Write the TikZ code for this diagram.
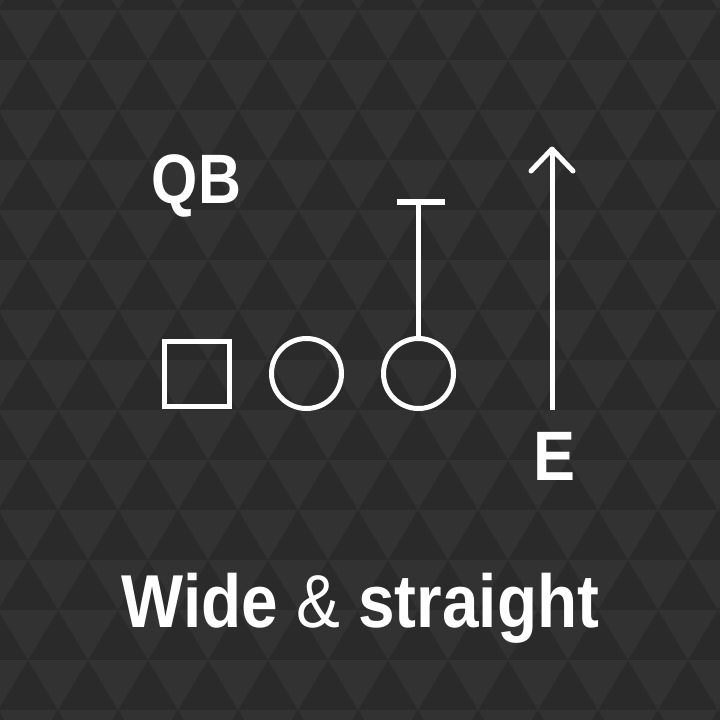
\documentclass[tikz,border=0pt]{standalone}
\usepackage{fontspec}
\usepackage{graphicx}
\setmainfont{Liberation Sans}
\definecolor{bgdark}{HTML}{2A2A2A}
\definecolor{bglight}{HTML}{323232}
\begin{document}
\begin{tikzpicture}[x=1pt,y=-1pt,
  player/.style={draw=white, line width=5pt, inner sep=0pt},
  route/.style={draw=white, line width=5pt},
  lbl/.style={text=white, inner sep=0pt, anchor=base}]
\useasboundingbox (0,0) rectangle (720,720);
\fill[bgdark] (0,0) rectangle (720,720);
\begin{scope}
\clip (0,0) rectangle (720,720);
\foreach \i in {-1,...,14}{
  \pgfmathsetmacro{\top}{10+50*\i}
  \pgfmathsetmacro{\off}{isodd(\i) ? -32 : -2}
  \foreach \k in {-1,...,12}{
    \pgfmathsetmacro{\a}{\off+60*\k}
    \fill[bglight] (\a,\top) -- (\a+60,\top) -- (\a+30,\top+50) -- cycle;
  }
}
\end{scope}
% players
\node[player, rectangle, minimum size=65pt] (qb) at (197,374) {};
\node[player, circle, minimum size=70pt] (c1) at (306.5,373.5) {};
\node[player, circle, minimum size=70pt] (c2) at (418.5,373.5) {};
% route: stop
\coordinate (barL) at (397,202);
\coordinate (barR) at (445,202);
\coordinate (stoptop) at (c2.north |- barL);
\draw[route] (c2.north) -- (stoptop);
\draw[white, line width=6pt] (barL) -- (barR);
% route: end straight
\coordinate (ebot) at (552,410);
\coordinate (etip) at (552,149);
\coordinate (ewl) at (531,171);
\coordinate (ewr) at (573,171);
\draw[route] (ebot) -- (etip);
\draw[route, line cap=round, line join=round] (ewl) -- (etip) -- (ewr);
% labels
\node[lbl, font=\fontsize{70}{70}\selectfont\bfseries] (lqb) at (196.5,203) {\scalebox{0.85}[1]{QB}};
\node[lbl, font=\fontsize{70}{70}\selectfont\bfseries] (le) at (554.5,480) {\scalebox{0.9}[1]{E}};
\node[lbl, font=\fontsize{75}{75}\selectfont] (title) at (360.5,627) {\scalebox{0.876}[1]{\textbf{Wide} \& \textbf{straight}}};
\end{tikzpicture}
\end{document}
